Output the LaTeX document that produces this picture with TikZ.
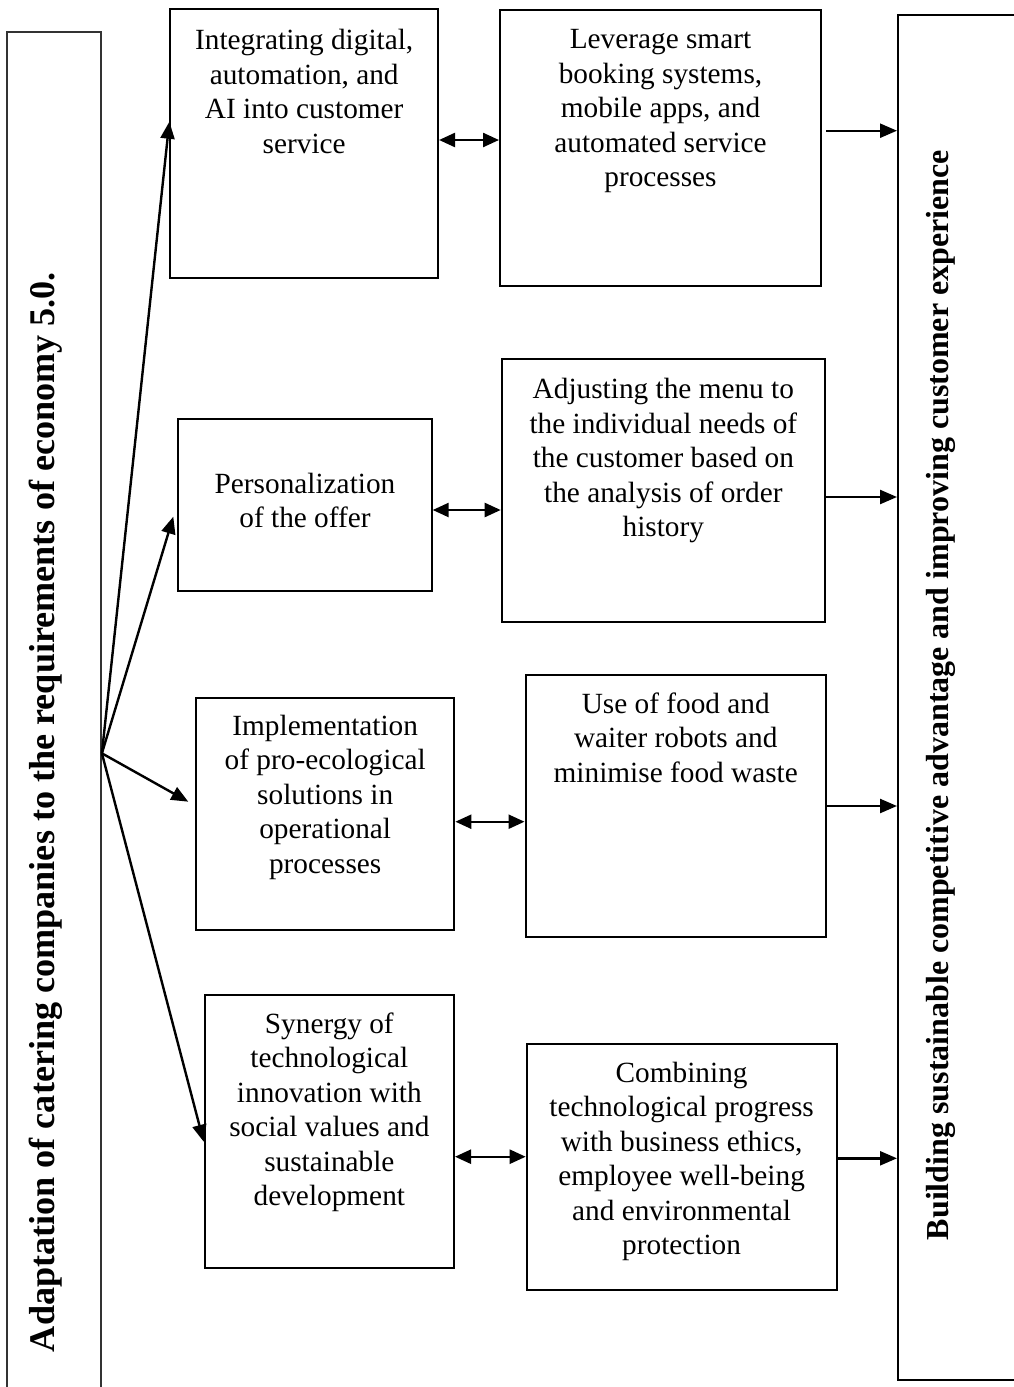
\documentclass[tikz,border=0pt]{standalone}
\usepackage{fontspec}
\setmainfont{Liberation Serif}
\usetikzlibrary{arrows.meta}
\newcommand\fstrut{\rule{0pt}{25pt}}
\begin{document}
\begin{tikzpicture}[x=1pt,y=-1pt,
  box/.style={draw=black, line width=2pt, rectangle, inner sep=0pt},
  bigbox/.style={draw=black!80, line width=1.8pt, rectangle, inner sep=0pt},
  txt/.style={anchor=north, align=center, inner sep=0pt, font=\fontsize{29.3}{34.5}\selectfont},
  vtxt/.style={rotate=90, inner sep=0pt, font=\fontsize{32}{36}\selectfont\bfseries},
  arr/.style={line width=2.4pt, -{Triangle[length=17pt,width=14pt]}},
  dbl/.style={line width=2.4pt, {Triangle[length=16pt,width=14pt]}-{Triangle[length=16pt,width=14pt]}}]
\useasboundingbox[fill=white] (0,0) rectangle (1014,1387);

% side boxes (open beyond the page edge)
\node[bigbox, minimum width=94pt, minimum height=1388pt] (L) at (54,726) {};
\node[box, minimum width=142pt, minimum height=1365pt] (R) at (969,697.5) {};
\node[vtxt] (lt) at (46,812) {\resizebox{1080pt}{!}{Adaptation of catering companies to the requirements of economy 5.0.}};
\node[vtxt] (rt) at (941,695) {\resizebox{1090pt}{!}{Building sustainable competitive advantage and improving customer experience}};

% boxes
\node[box, minimum width=267.7pt, minimum height=269pt] (b1) at (304.2,143.8) {};
\node[box, minimum width=321pt, minimum height=276.5pt] (b2) at (660.5,147.75) {};
\node[box, minimum width=253.4pt, minimum height=171.4pt] (b3) at (305,505) {};
\node[box, minimum width=323.3pt, minimum height=263pt] (b4) at (663.35,490.8) {};
\node[box, minimum width=258.4pt, minimum height=231.7pt] (b5) at (325.2,814.15) {};
\node[box, minimum width=300.5pt, minimum height=262pt] (b6) at (675.75,806) {};
\node[box, minimum width=249.3pt, minimum height=273pt] (b7) at (329.35,1131.5) {};
\node[box, minimum width=309.8pt, minimum height=246.5pt] (b8) at (681.6,1166.75) {};

% texts
\node[txt] (t1) at (304.2,24.3) {\fstrut Integrating digital,\\automation, and\\AI into customer\\service};
\node[txt] (t2) at (660.5,23.3) {\fstrut Leverage smart\\booking systems,\\mobile apps, and\\automated service\\processes};
\node[txt] (t3) at (305,468) {\fstrut Personalization\\of the offer};
\node[txt] (t4) at (663.35,373.3) {\fstrut Adjusting the menu to\\the individual needs of\\the customer based on\\the analysis of order\\history};
\node[txt] (t5) at (325.2,710) {\fstrut Implementation\\of pro-ecological\\solutions in\\operational\\processes};
\node[txt] (t6) at (675.75,688) {\fstrut Use of food and\\waiter robots and\\minimise food waste};
\node[txt] (t7) at (329.35,1008) {\fstrut Synergy of\\technological\\innovation with\\social values and\\sustainable\\development};
\node[txt] (t8) at (681.6,1057) {\fstrut Combining\\technological progress\\with business ethics,\\employee well-being\\and environmental\\protection};

% fan of arrows
\coordinate (hub) at (L.east |- 0,753.3);
\coordinate (a1) at (b1.west |- 0,121.7);
\coordinate (a2) at (173.3,516.7);
\coordinate (a3) at (188.3,801.7);
\coordinate (a4) at (b7.west |- 0,1141.7);
\draw[arr] (hub) -- (a1);
\draw[arr] (hub) -- (a2);
\draw[arr] (hub) -- (a3);
\draw[arr] (hub) -- (a4);

% double arrows
\draw[dbl] (b1.east |- 0,140) -- (b2.west |- 0,140);
\draw[dbl] (b3.east |- 0,510) -- (b4.west |- 0,510);
\draw[dbl] (b5.east |- 0,821.7) -- (b6.west |- 0,821.7);
\draw[dbl] (b7.east |- 0,1156.7) -- (b8.west |- 0,1156.7);

% right arrows
\draw[arr, shorten <=4pt] (b2.east |- 0,130.7) -- (R.west |- 0,130.7);
\draw[arr] (b4.east |- 0,497) -- (R.west |- 0,497);
\draw[arr] (b6.east |- 0,806) -- (R.west |- 0,806);
\draw[arr] (b8.east |- 0,1158.3) -- (R.west |- 0,1158.3);
\end{tikzpicture}
\end{document}
